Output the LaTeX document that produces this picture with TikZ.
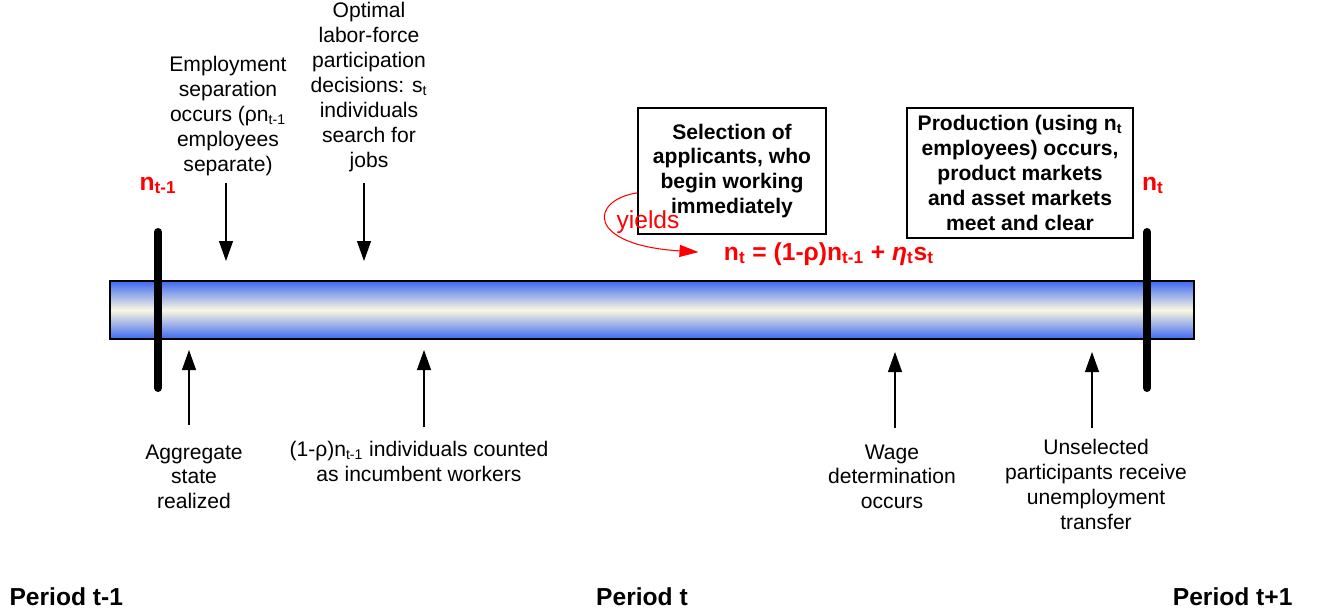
\documentclass[tikz,border=0pt]{standalone}
\usepackage{fontspec}
\setmainfont{Liberation Sans}
\usetikzlibrary{arrows.meta}
\definecolor{barblue}{RGB}{62,104,240}
\definecolor{barcream}{RGB}{250,248,226}
\tikzset{
    event/.style={align=center,inner sep=0pt,font=\fontsize{12}{14.2}\selectfont},
    eventbox/.style={draw,line width=0.9pt,align=center,inner sep=2pt,font=\fontsize{12}{14.2}\selectfont\bfseries},
    redlabel/.style={text=red,inner sep=0pt,font=\fontsize{14}{16}\selectfont\bfseries},
    period/.style={inner sep=0pt,font=\fontsize{14}{16}\selectfont\bfseries},
    tickbar/.style={line width=0.16cm,line cap=round},
    evarrow/.style={->},
}
\begin{document}
\begin{tikzpicture}[x=0.02cm,y=-0.02cm,>={Triangle[length=0.4cm,width=0.28cm]},line width=0.6pt]
    \useasboundingbox (0,0) rectangle (1327,615);
    \shade [top color=barblue,bottom color=barblue,middle color=barcream,draw=black,line width=0.8pt]
        (110,281) rectangle (1194,339);
    \coordinate (ltop) at (158,232);
    \coordinate (lbot) at (158,388);
    \coordinate (rtop) at (1147,232);
    \coordinate (rbot) at (1147,388);
    \draw [tickbar] (ltop) -- (lbot);
    \draw [tickbar] (rtop) -- (rbot);
    \node [redlabel,anchor=base] (nprev) at (158,190) {n\textsubscript{t-1}};
    \node [redlabel,anchor=base] (nnow) at (1153,190) {n\textsubscript{t}};
    \node [event,anchor=north] (sep) at (228,56) {Employment\\ separation\\ occurs (ρn\textsubscript{t-1}\\ employees\\ separate)};
    \node [event,anchor=north] (lfp) at (369,2) {Optimal\\ labor-force\\ participation\\ decisions: s\textsubscript{t}\\ individuals\\ search for\\ jobs};
    \coordinate (septip) at (226,261);
    \coordinate (lfptip) at (364,261);
    \draw [evarrow,shorten <=0.13cm] (sep.south -| septip) -- (septip);
    \draw [evarrow,shorten <=0.22cm] (lfp.south -| lfptip) -- (lfptip);
    \node [eventbox,minimum width=3.76cm,minimum height=2.52cm] (sel) at (732,171)
        {Selection of\\ applicants, who\\ begin working\\ immediately};
    \node [eventbox,minimum width=4.52cm,minimum height=2.6cm] (prod) at (1020,173)
        {Production (using n\textsubscript{t}\\ employees) occurs,\\ product markets\\ and asset markets\\ meet and clear};
    \node [redlabel,anchor=base] (eq) at (829,260)
        {n\textsubscript{t} = (1-ρ)n\textsubscript{t-1} + \textit{η}\textsubscript{t}s\textsubscript{t}};
    \node [text=red,inner sep=0pt,anchor=base,font=\fontsize{14}{16}\selectfont] (yields) at (648,228) {yields};
    \draw [red,->,>={Triangle[length=0.38cm,width=0.24cm]},shorten >=0.5cm]
        (sel.193) .. controls (590,200) and (585,245) .. (eq.west);
    \node [event,anchor=north] (agg) at (194,444) {Aggregate\\ state\\ realized};
    \node [event,anchor=north] (incumb) at (419,441) {(1-ρ)n\textsubscript{t-1} individuals counted\\ as incumbent workers};
    \node [event,anchor=north] (wage) at (892,444) {Wage\\ determination\\ occurs};
    \node [event,anchor=north] (unsel) at (1096,439) {Unselected\\ participants receive\\ unemployment\\ transfer};
    \coordinate (aggtip) at (189,350);
    \coordinate (incumbtip) at (424,350);
    \coordinate (wagetip) at (895,352);
    \coordinate (unseltip) at (1092,352);
    \draw [evarrow,shorten <=0.38cm] (agg.north -| aggtip) -- (aggtip);
    \draw [evarrow,shorten <=0.28cm] (incumb.north -| incumbtip) -- (incumbtip);
    \draw [evarrow,shorten <=0.32cm] (wage.north -| wagetip) -- (wagetip);
    \draw [evarrow,shorten <=0.22cm] (unsel.north -| unseltip) -- (unseltip);
    \node [period,anchor=base west] (pprev) at (9,605) {Period t-1};
    \node [period,anchor=base] (pnow) at (642,605) {Period t};
    \node [period,anchor=base east] (pnext) at (1293,605) {Period t+1};
\end{tikzpicture}
\end{document}
